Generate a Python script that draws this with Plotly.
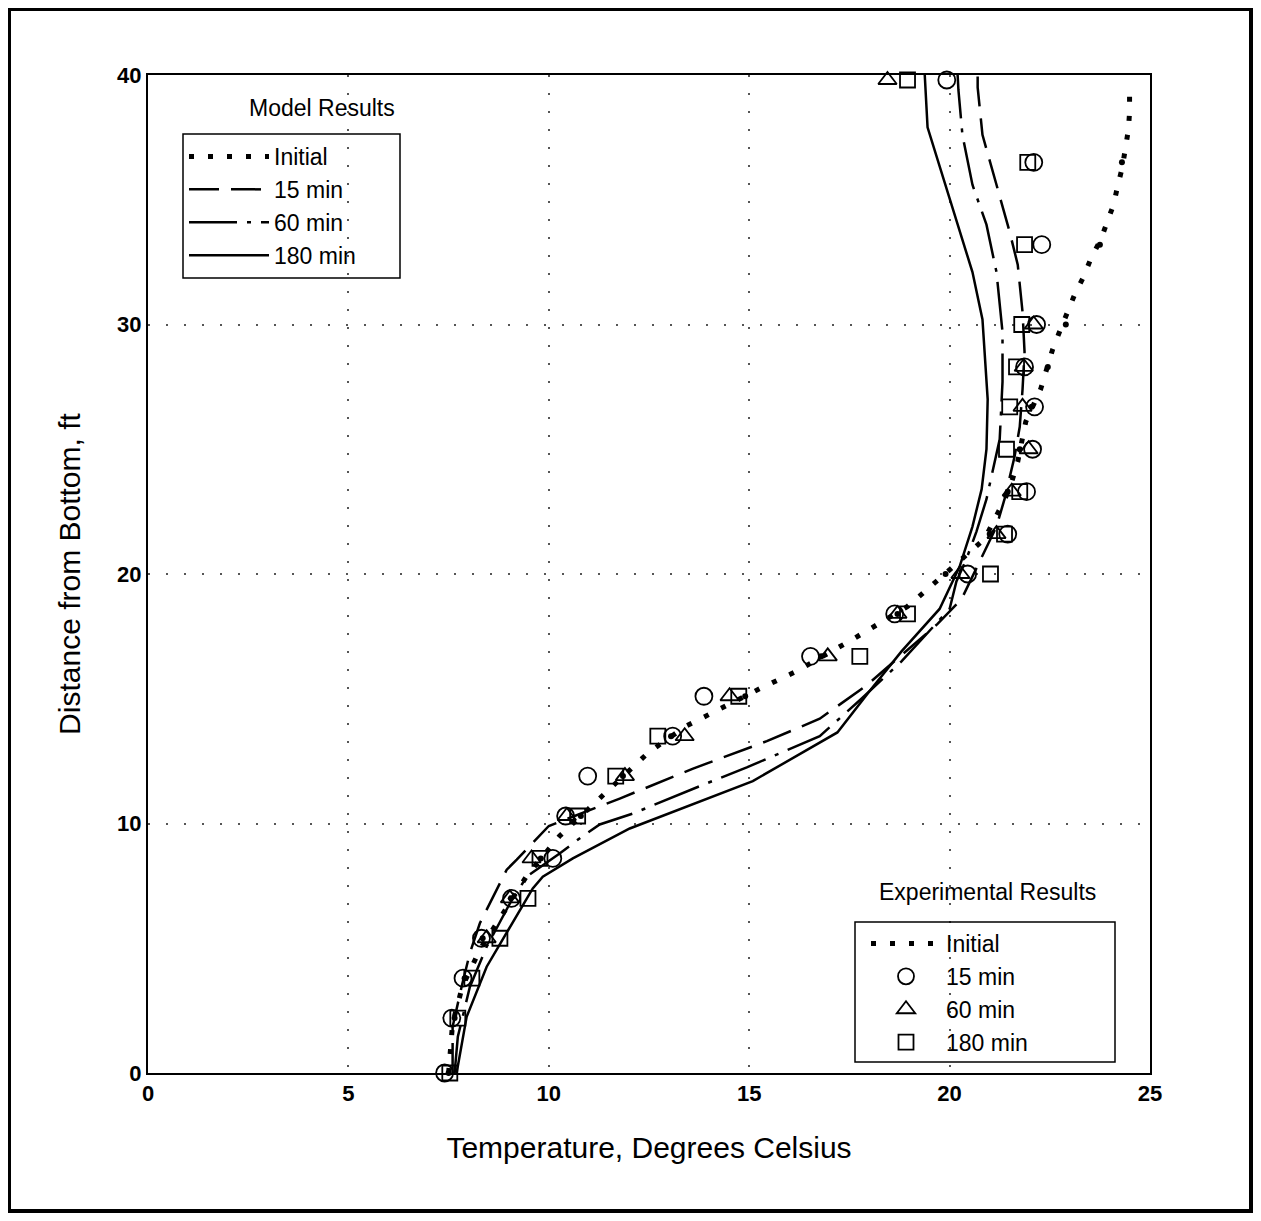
import plotly.graph_objects as go

# model results: temperature (deg C) vs distance from bottom (ft)
init_T = [7.5, 7.6, 7.85, 8.3, 8.9, 9.45, 10.27, 11.12, 11.57, 12.04, 12.49, 13.42, 14.39,
          15.26, 16.18, 17.6, 18.95, 19.43, 19.88, 20.87, 21.15, 21.38, 21.55, 21.7, 21.8,
          21.9, 22.27, 22.42, 22.57, 22.74, 22.94, 23.12, 23.34, 23.54, 23.77, 23.94, 24.09,
          24.2, 24.31, 24.39, 24.46, 24.49, 24.49]
init_z = [0, 2.0, 3.5, 5.0, 6.5, 7.9, 9.5, 10.8, 11.5, 12.2, 12.85, 13.9, 14.7,
          15.4, 16.1, 17.4, 18.7, 19.4, 20.0, 21.4, 22.3, 23.0, 23.7, 24.5, 25.3,
          26.1, 27.4, 28.2, 29.0, 29.7, 30.5, 31.2, 31.9, 32.7, 33.4, 34.1, 34.8,
          35.6, 36.3, 37.1, 37.8, 38.5, 39.3]

m15_T = [7.6, 7.6, 7.83, 8.03, 8.28, 8.65, 8.95, 9.2, 10.0, 11.77, 13.6, 15.44, 16.76, 17.9,
         18.9, 19.7, 20.3, 20.87, 21.17, 21.37, 21.62, 21.75, 21.82, 21.87, 21.82, 21.7,
         21.5, 21.17, 20.82, 20.7, 20.7]
m15_z = [0, 1.85, 3.5, 4.8, 6.0, 7.2, 8.15, 8.55, 9.9, 11.0, 12.2, 13.3, 14.2, 15.5,
         16.9, 18.0, 19.0, 20.9, 21.9, 23.0, 24.7, 25.9, 27.4, 28.9, 30.5, 32.4,
         33.7, 35.6, 37.6, 39.5, 40]

m60_T = [7.65, 7.73, 8.03, 8.45, 9.03, 9.45, 10.27, 10.85, 11.27, 12.1, 13.77, 14.94, 16.76,
         17.8, 18.8, 19.5, 20.0, 20.17, 20.42, 20.67, 20.92, 21.07, 21.25, 21.32, 21.32,
         21.17, 20.92, 20.57, 20.32, 20.22, 20.2]
m60_z = [0, 1.45, 3.45, 5.06, 6.8, 7.87, 8.8, 9.5, 9.96, 10.4, 11.5, 12.25, 13.5,
         15.0, 16.5, 17.7, 18.6, 19.7, 20.6, 21.7, 23.0, 24.1, 25.4, 27.7, 29.7,
         32.1, 34.0, 35.6, 37.6, 39.4, 40]

m180_T = [7.7, 7.95, 8.45, 9.03, 9.6, 9.85, 10.6, 12.02, 15.09, 17.2, 18.0, 18.8, 19.75,
          20.25, 20.57, 20.8, 20.92, 20.95, 20.82, 20.57, 20.2, 19.75, 19.45, 19.38]
m180_z = [0, 2.25, 4.26, 5.86, 7.4, 7.87, 8.6, 9.8, 11.7, 13.65, 15.3, 16.9, 18.6,
          20.3, 21.9, 23.4, 25.0, 27.0, 30.2, 32.1, 34.0, 36.3, 37.9, 40]

# experimental results
exp_z = [0, 2.2, 3.8, 5.4, 7.0, 8.6, 10.3, 11.9, 13.5, 15.1, 16.7, 18.4, 20.0, 21.6,
         23.3, 25.0, 26.7, 28.3, 30.0, 33.2, 36.5, 39.8]
exp_init = [7.5, 7.65, 7.9, 8.35, 9.05, 9.8, 10.8, 11.85, 13.05, 14.9, 16.8, 18.7, 19.9,
            21.0, 21.45, 21.75, 22.05, 22.45, 22.9, 23.75, 24.3, None]
exp_15 = [7.4, 7.58, 7.86, 8.32, 9.07, 10.1, 10.42, 10.97, 13.09, 13.87, 16.53, 18.63,
          20.45, 21.45, 21.92, 22.07, 22.12, 21.87, 22.17, 22.3, 22.1, 19.93]
exp_60 = [None, None, None, 8.45, 9.03, 9.57, 10.45, 11.9, 13.39, 14.51, 16.96, 18.7,
          20.27, 21.17, 21.55, 21.97, 21.82, 21.85, 22.1, None, None, 18.45]
exp_180 = [7.53, 7.73, 8.08, 8.78, 9.48, 9.78, 10.72, 11.67, 12.72, 14.74, 17.76, 18.95,
           21.02, 21.37, 21.75, 21.42, 21.5, 21.67, 21.8, 21.87, 21.95, 18.95]

FONT = "Liberation Sans, Arial, sans-serif"
OFF = 8  # page body margin
L, R, T, B = 148, 1150, 75, 1073  # plot area in page pixels
W, H = 1245, 1205

dots = dict(color="black", width=5, dash="5px,14px")

fig = go.Figure()

fig.add_trace(go.Scatter(x=init_T, y=init_z, mode="lines", name="Initial",
                         line=dots, legend="legend"))
fig.add_trace(go.Scatter(x=m15_T, y=m15_z, mode="lines", name="15 min",
                         line=dict(color="black", width=2.5, dash="30px,12px"), legend="legend"))
fig.add_trace(go.Scatter(x=m60_T, y=m60_z, mode="lines", name="60 min",
                         line=dict(color="black", width=2.5, dash="48px,10px,4px,10px"),
                         legend="legend"))
fig.add_trace(go.Scatter(x=m180_T, y=m180_z, mode="lines", name="180 min",
                         line=dict(color="black", width=2.5), legend="legend"))

# experimental
fig.add_trace(go.Scatter(x=exp_init, y=exp_z, mode="markers", showlegend=False,
                         marker=dict(color="black", size=6), cliponaxis=False))
fig.add_trace(go.Scatter(x=[None], y=[None], mode="lines", name="Initial",
                         line=dots, legend="legend2"))
fig.add_trace(go.Scatter(x=exp_15, y=exp_z, mode="markers", name="15 min", legend="legend2",
                         cliponaxis=False,
                         marker=dict(symbol="circle-open", size=17, color="black",
                                     line=dict(width=1.8, color="black"))))
fig.add_trace(go.Scatter(x=exp_60, y=exp_z, mode="markers", name="60 min", legend="legend2",
                         cliponaxis=False,
                         marker=dict(symbol="triangle-up-open", size=16, color="black",
                                     line=dict(width=1.8, color="black"))))
fig.add_trace(go.Scatter(x=exp_180, y=exp_z, mode="markers", name="180 min", legend="legend2",
                         cliponaxis=False,
                         marker=dict(symbol="square-open", size=15, color="black",
                                     line=dict(width=1.8, color="black"))))


def px(xp):
    return (xp - L) / (R - L)


def py(yp):
    return (B - yp) / (B - T)


def box(x0, y0, x1, y1, w):
    return dict(type="rect", xref="paper", yref="paper", layer="above",
                x0=px(x0), x1=px(x1), y0=py(y1), y1=py(y0),
                line=dict(color="black", width=w))


axis_common = dict(showline=True, linecolor="black", linewidth=2, mirror=True,
                   showgrid=True, gridcolor="#555", griddash="2px,16px", gridwidth=1.5,
                   zeroline=False, ticks="",
                   tickfont=dict(family=FONT, size=22, color="black", weight="bold"))

legend_common = dict(xanchor="left", yanchor="top", bgcolor="rgba(0,0,0,0)", borderwidth=0,
                     font=dict(family=FONT, size=23, color="black"), tracegroupgap=0)

fig.update_layout(
    width=W, height=H,
    margin=dict(l=L - OFF, r=W - (R - OFF), t=T - OFF, b=H - (B - OFF)),
    paper_bgcolor="white", plot_bgcolor="white",
    font=dict(family=FONT, color="black"),
    xaxis=dict(range=[0, 25], dtick=5, **axis_common,
               title=dict(text="Temperature, Degrees Celsius", standoff=32,
                          font=dict(family=FONT, size=30, color="black"))),
    yaxis=dict(range=[0, 40], dtick=10, **axis_common,
               title=dict(text="Distance from Bottom, ft", standoff=28,
                          font=dict(family=FONT, size=30, color="black"))),
    legend=dict(x=px(184), y=py(135), itemwidth=80, **legend_common),
    legend2=dict(x=px(866), y=py(922), itemwidth=70, **legend_common),
    annotations=[
        dict(text="Model Results", x=px(322), y=py(108), xref="paper", yref="paper",
             xanchor="center", yanchor="middle", showarrow=False,
             font=dict(family=FONT, size=23, color="black")),
        dict(text="Experimental Results", x=px(987), y=py(892), xref="paper", yref="paper",
             xanchor="center", yanchor="middle", showarrow=False,
             font=dict(family=FONT, size=23, color="black")),
    ],
    shapes=[
        box(183, 134, 400, 278, 1.5),
        box(855, 922, 1115, 1062, 1.5),
        box(9, 9, 1251, 1211, 4),
    ],
)

fig.write_html("out.html")
